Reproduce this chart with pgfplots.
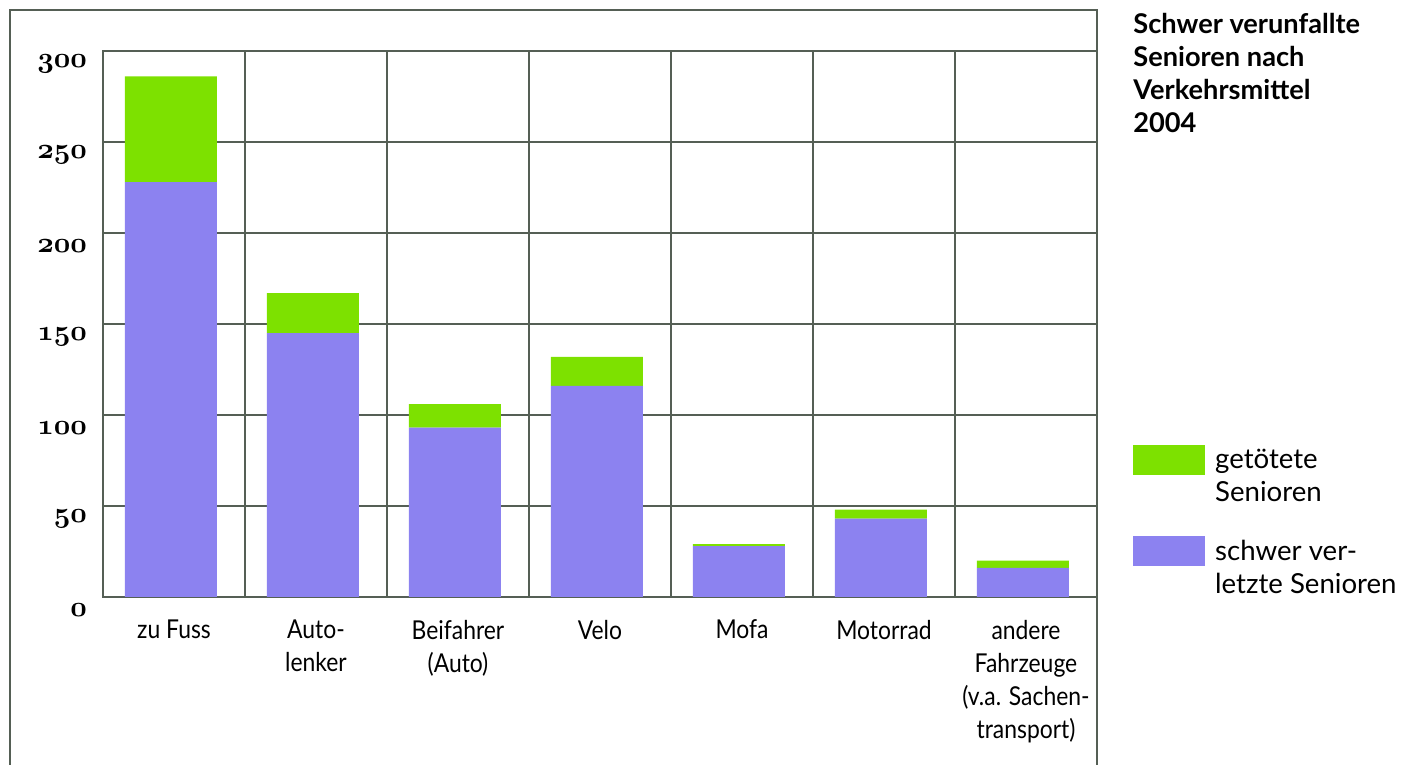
\documentclass[border=0pt]{standalone}
\usepackage{pgfplots}
\pgfplotsset{compat=1.18}
\usepackage{pgfplotstable}
\usepackage{fontspec}
\setmainfont{Lato}[FakeStretch=0.88]
\newfontfamily\widefont{Lato}
\definecolor{verl}{RGB}{140,130,240}
\definecolor{getot}{RGB}{125,225,0}
\definecolor{gridc}{RGB}{85,95,85}

\pgfplotstableread{
x verl getot
0 228 58
1 145 22
2 93 13
3 116 16
4 28 1
5 43 5
6 16 4
}\data

\begin{document}
\begin{tikzpicture}
\path[use as bounding box] (-51.5pt,-84pt) rectangle (650.5pt,298.5pt);
\draw[gridc, line width=1pt] (-46.5pt,-84pt) -- (-46.5pt,293.5pt) -- (497pt,293.5pt) -- (497pt,-84pt);
\begin{axis}[
  at={(0pt,0pt)}, anchor=south west,
  scale only axis, width=497pt, height=273pt,
  ymin=0, ymax=300, xmin=-0.5, xmax=6.5,
  ybar stacked, bar width=46pt, bar shift=-1.5pt,
  ytick={0,50,...,300},
  xtick={0,...,6},
  xticklabels={zu Fuss, {Auto-\\lenker}, {Beifahrer\\(Auto)}, Velo, Mofa, Motorrad, {andere\\Fahrzeuge\\(v.a. Sachen-\\transport)}},
  minor xtick={0.5,1.5,...,5.5},
  xminorgrids, ymajorgrids,
  major tick style={draw=none}, minor tick style={draw=none},
  grid style={gridc, line width=1pt},
  minor grid style={gridc, line width=1pt},
  axis line style={gridc, line width=1pt},
  xticklabel style={align=center, font=\fontsize{13}{16.6}\selectfont, yshift=-8pt},
  yticklabel={$\mathnormal{\pgfmathprintnumber{\tick}}$},
  yticklabel style={font=\boldmath\fontsize{15}{16}\selectfont, yshift=-6.5pt, xshift=-4.5pt},
  reverse legend,
  legend style={at={(1.036,0.28)}, anchor=north west, draw=none, fill=none, inner sep=0pt,
    font=\widefont\fontsize{13.8}{16.5}\selectfont, cells={align=left, anchor=west}, row sep=14pt},
]
\addplot[fill=verl, draw=none, legend image code/.code={\fill[verl] (0pt,1pt) rectangle (36pt,16pt);}] table[x=x,y=verl]{\data};
\addplot[fill=getot, draw=none, legend image code/.code={\fill[getot] (0pt,1pt) rectangle (36pt,16pt);}] table[x=x,y=getot]{\data};
\legend{{\hspace{3pt}schwer ver-\\\hspace{3pt}letzte Senioren}, {\hspace{3pt}getötete\\\hspace{3pt}Senioren}}
\end{axis}
\node[anchor=north west, align=left, inner sep=0pt, font=\widefont\bfseries\fontsize{13.6}{16.5}\selectfont] at (515pt,292pt) {Schwer verunfallte\\Senioren nach\\Verkehrsmittel\\2004};
\end{tikzpicture}
\end{document}
